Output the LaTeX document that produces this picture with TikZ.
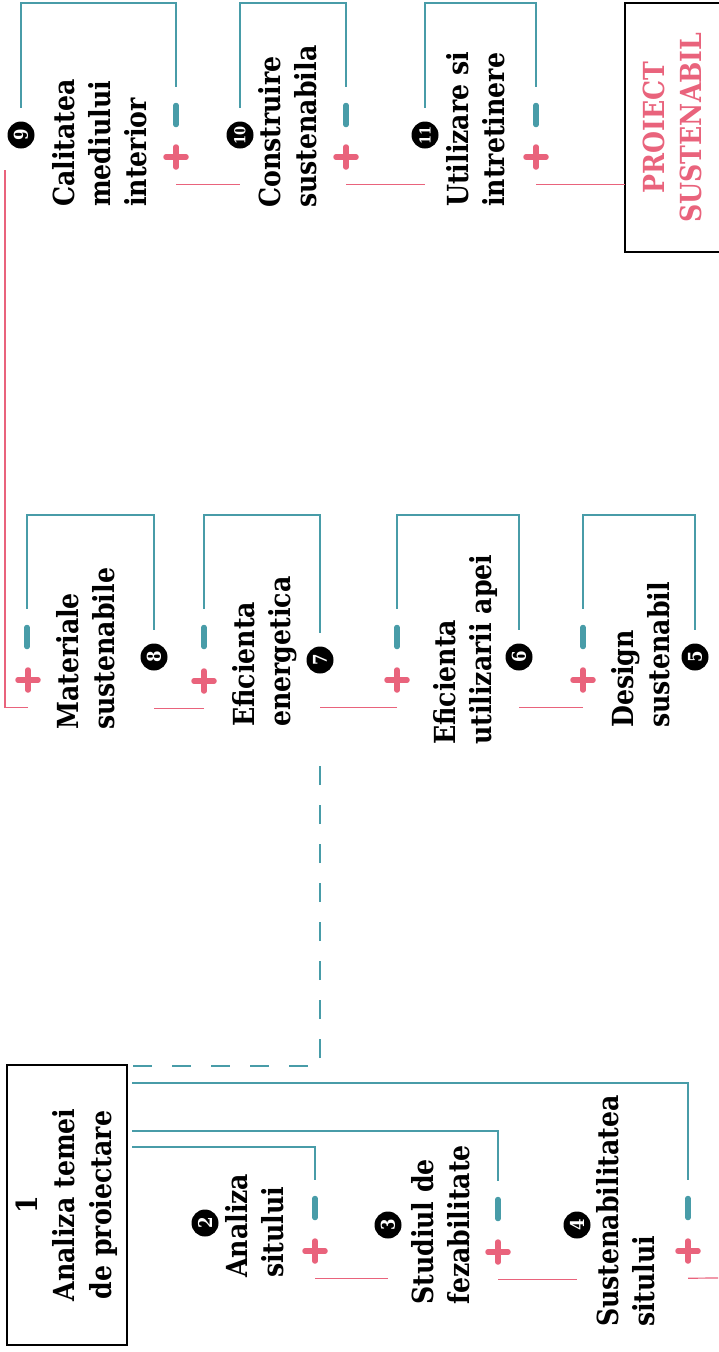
\documentclass[tikz,border=0pt]{standalone}
\usepackage{fontspec}
\setmainfont{DejaVu Serif}[FakeStretch=0.87]
\usepackage{xcolor}
\usetikzlibrary{positioning,calc}
\definecolor{tealc}{RGB}{72,156,168}
\definecolor{pinkc}{RGB}{233,99,124}
\tikzstyle{lbl}      =[rotate=90, anchor=west, align=left, inner sep=0pt,
                        font=\fontsize{29}{36}\selectfont\bfseries]
\tikzstyle{num}      =[circle, fill=black, text=white, minimum size=27pt, inner sep=0pt,
                        outer sep=14pt, font=\fontsize{19}{19}\selectfont\bfseries]
\tikzstyle{bigbox}   =[rectangle, draw=black, line width=2.8pt, inner sep=0pt, outer sep=0pt,
                        font=\fontsize{29}{37}\selectfont\bfseries]
\tikzstyle{minusmark}=[minimum width=8pt, minimum height=56pt, inner sep=0pt,
                        path picture={\draw[tealc, line width=5.5pt, line cap=round]
                          ([yshift=-9.5pt]path picture bounding box.center) --
                          ([yshift=9.5pt]path picture bounding box.center);}]
\tikzstyle{plusmark} =[minimum size=54pt, inner sep=0pt,
                        path picture={\draw[pinkc, line width=5.5pt, line cap=round]
                          ([yshift=-10pt]path picture bounding box.center) --
                          ([yshift=10pt]path picture bounding box.center)
                          ([xshift=-10pt]path picture bounding box.center) --
                          ([xshift=10pt]path picture bounding box.center);}]
\tikzstyle{tl}       =[tealc, line width=1.2pt]
\tikzstyle{pl}       =[pinkc, line width=1.2pt]

\begin{document}
\begin{tikzpicture}[x=1pt, y=-1pt]
  \useasboundingbox (0,0) rectangle (718,1352);

  % ── the two boxes ───────────────────────────────────────────────────────────
  \node[bigbox, minimum width=120pt, minimum height=280pt] (box1) at (67,1205)
    {\rotatebox{90}{\begin{tabular}{@{}c@{}}1\\Analiza temei\\de proiectare\end{tabular}}};
  \node[bigbox, minimum width=102pt, minimum height=249pt, text=pinkc] (goal) at (676,127.5)
    {\rotatebox{90}{\begin{tabular}{@{}c@{}}PROIECT\\SUSTENABIL\end{tabular}}};

  % ── bottom row: 2, 3, 4 ─────────────────────────────────────────────────────
  \node[num] (c2) at (205,1223) {\rotatebox{90}{2}};
  \node[num] (c3) at (388,1225) {\rotatebox{90}{3}};
  \node[num] (c4) at (577,1225) {\rotatebox{90}{4}};
  \node[lbl] (t2) at (255,1278) {Analiza\\sitului};
  \node[lbl] (t3) at (441,1305) {Studiul de\\fezabilitate};
  \node[lbl] (t4) at (626,1327) {Sustenabilitatea\\sitului};
  \node[minusmark] (m2) at (315,1208) {};
  \node[minusmark] (m3) at (498,1209) {};
  \node[minusmark] (m4) at (688,1208) {};
  \node[plusmark]  (p2) at (315,1251) {};
  \node[plusmark]  (p3) at (498,1252) {};
  \node[plusmark]  (p4) at (688,1251) {};

  % ── middle row: 5, 6, 7, 8 ──────────────────────────────────────────────────
  \node[num] (c5) at (695,657) {\rotatebox{90}{5}};
  \node[num] (c6) at (519,657) {\rotatebox{90}{6}};
  \node[num] (c7) at (320,660) {\rotatebox{90}{7}};
  \node[num] (c8) at (154,657) {\rotatebox{90}{8}};
  \node[lbl] (t5) at (641,728) {Design\\sustenabil};
  \node[lbl] (t6) at (465,745) {Eficienta\\utilizarii apei};
  \node[lbl] (t7) at (265,727) {Eficienta\\energetica};
  \node[lbl] (t8) at (86,730)  {Materiale\\sustenabile};
  \node[minusmark] (m5) at (583,637) {};
  \node[minusmark] (m6) at (397,637) {};
  \node[minusmark] (m7) at (204,637) {};
  \node[minusmark] (m8) at (27,637)  {};
  \node[plusmark]  (p5) at (583,680) {};
  \node[plusmark]  (p6) at (397,680) {};
  \node[plusmark]  (p7) at (204,681) {};
  \node[plusmark]  (p8) at (28,680)  {};

  % ── top row: 9, 10, 11 ──────────────────────────────────────────────────────
  \node[num] (c9)  at (21,135)  {\rotatebox{90}{9}};
  \node[num, font=\fontsize{15}{15}\selectfont\bfseries] (c10) at (240,135) {\rotatebox{90}{10}};
  \node[num, font=\fontsize{15}{15}\selectfont\bfseries] (c11) at (425,135) {\rotatebox{90}{11}};
  \node[lbl] (t9)  at (100,207) {Calitatea\\mediului\\interior};
  \node[lbl] (t10) at (288,208) {Construire\\sustenabila};
  \node[lbl] (t11) at (476,207) {Utilizare si\\intretinere};
  \node[minusmark] (m9)  at (176,115) {};
  \node[minusmark] (m10) at (346,115) {};
  \node[minusmark] (m11) at (536,115) {};
  \node[plusmark]  (p9)  at (176,157) {};
  \node[plusmark]  (p10) at (346,157) {};
  \node[plusmark]  (p11) at (536,157) {};

  % ── teal links (box to minus, number to minus) ──────────────────────────────
  \coordinate (topbar) at (0,3);
  \coordinate (midbar) at (0,515);
  \draw[tl] ([xshift=5pt,yshift=-82pt]box1.north east) -| (m2.north);
  \draw[tl] ([xshift=5pt,yshift=-66pt]box1.north east) -| (m3.north);
  \draw[tl] ([xshift=5pt,yshift=-18pt]box1.north east) -| (m4.north);
  \draw[tl, dash pattern=on 19pt off 20pt]
    ([xshift=6pt,yshift=-1pt]box1.north east) -| ([yshift=-75pt]c7.south);
  \draw[tl] (c5.north) -- (c5.north |- midbar) -| (m5.north);
  \draw[tl] (c6.north) -- (c6.north |- midbar) -| (m6.north);
  \draw[tl] (c7.north) -- (c7.north |- midbar) -| (m7.north);
  \draw[tl] (c8.north) -- (c8.north |- midbar) -| (m8.north);
  \draw[tl] (c9.north) -- (c9.north |- topbar) -| (m9.north);
  \draw[tl] (c10.north) -- (c10.north |- topbar) -| (m10.north);
  \draw[tl] (c11.north) -- (c11.north |- topbar) -| (m11.north);

  % ── pink chain (plus to next step) ──────────────────────────────────────────
  \coordinate (edgeR) at (718,1278);
  \coordinate (up9)   at (5,170);
  \draw[pl] (p2.south) -- (p2.south -| c3);
  \draw[pl] (p3.south) -- (p3.south -| c4);
  \draw[pl] (p4.south) -- (edgeR);
  \draw[pl] (p5.south) -- (p5.south -| c6);
  \draw[pl] (p6.south) -- (p6.south -| c7);
  \draw[pl] (p7.south) -- (p7.south -| c8);
  \draw[pl] (p8.south) -| (up9);
  \draw[pl] (p9.south) -- (p9.south -| c10);
  \draw[pl] (p10.south) -- (p10.south -| c11);
  \draw[pl] (p11.south) -- (p11.south -| goal.west);

\end{tikzpicture}
\end{document}
